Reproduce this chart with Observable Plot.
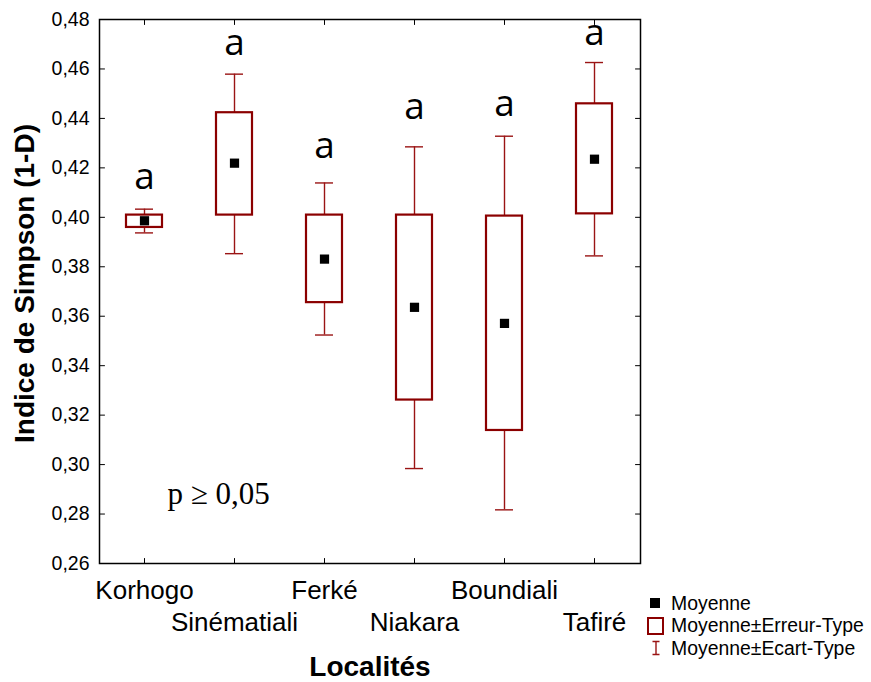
<!DOCTYPE html>
<html>
<head>
<meta charset="utf-8">
<script src="https://cdn.jsdelivr.net/npm/d3@7"></script>
<script src="https://cdn.jsdelivr.net/npm/@observablehq/plot@0.6"></script>
<style>
  body { margin: 0; background: white; }
  #wrap { position: relative; width: 871px; height: 682px; }
  .legend { position: absolute; left: 646px; top: 592px; font: 19.4px 'Liberation Sans', Arial, sans-serif; color: black; }
  .legend .row { display: flex; align-items: center; height: 22.5px; white-space: nowrap; }
  .legend svg { width: 25px; height: 22px; flex: none; }
</style>
</head>
<body>
<div id="wrap"></div>
<script>
const categories = ["Korhogo", "Sinématiali", "Ferké", "Niakara", "Boundiali", "Tafiré"];
const moyenne   = [0.3986, 0.4219, 0.3831, 0.3636, 0.3571, 0.4235];
const seLow     = [0.3959, 0.4009, 0.3655, 0.3261, 0.3138, 0.4014];
const seHigh    = [0.4009, 0.4423, 0.4009, 0.4009, 0.4005, 0.4459];
const sdLow     = [0.3937, 0.3853, 0.3524, 0.2984, 0.2817, 0.3844];
const sdHigh    = [0.4033, 0.4579, 0.4139, 0.4285, 0.4328, 0.4626];
const letters   = ["a", "a", "a", "a", "a", "a"];
const letterY   = [0.4115, 0.4658, 0.4240, 0.4396, 0.4409, 0.4698];
const yTicks    = [0.26, 0.28, 0.30, 0.32, 0.34, 0.36, 0.38, 0.40, 0.42, 0.44, 0.46, 0.48];
const yTitle = "Indice de Simpson (1-D)";
const xTitle = "Localités";
const pText = "p ≥ 0,05";
const legendLabels = ["Moyenne", "Moyenne±Erreur-Type", "Moyenne±Ecart-Type"];

const data = categories.map((c, i) => ({
  cat: c, mean: moyenne[i], seLow: seLow[i], seHigh: seHigh[i],
  sdLow: sdLow[i], sdHigh: sdHigh[i], letter: letters[i], letterY: letterY[i]
}));
const evenCats = categories.filter((d, i) => i % 2 === 0);
const oddCats = categories.filter((d, i) => i % 2 === 1);
const fmt = d => d.toFixed(2).replace(".", ",");

const BOX = "#8b0000";
const WHISK = "#9a1414";

const tickShape = { draw(context, l) { context.moveTo(0, 0); context.lineTo(0, -l); } };

const chart = Plot.plot({
  width: 871,
  height: 682,
  marginTop: 19,
  marginBottom: 119,
  marginLeft: 99,
  marginRight: 231,
  style: { fontFamily: "'Liberation Sans', Arial, sans-serif", background: "white", color: "black" },
  x: { type: "band", domain: categories, paddingInner: 0.6, paddingOuter: 0.3 },
  y: { domain: [0.26, 0.48] },
  marks: [
    Plot.axisY(yTicks, { tickSize: 0, tickPadding: 10, tickFormat: fmt, fontSize: 19.5, label: null }),
    Plot.axisX(evenCats, { tickSize: 0, tickPadding: 17, fontSize: 26, label: null }),
    Plot.axisX(oddCats, { tickSize: 0, tickPadding: 49, fontSize: 26, label: null }),
    // inward ticks on all four sides
    Plot.vector(yTicks, { y: d => d, frameAnchor: "left", rotate: 90, length: 5, anchor: "start", shape: tickShape, stroke: "black", strokeWidth: 1 }),
    Plot.vector(yTicks, { y: d => d, frameAnchor: "right", rotate: 270, length: 5, anchor: "start", shape: tickShape, stroke: "black", strokeWidth: 1 }),
    Plot.vector(categories, { x: d => d, frameAnchor: "bottom", rotate: 0, length: 5, anchor: "start", shape: tickShape, stroke: "black", strokeWidth: 1 }),
    Plot.vector(categories, { x: d => d, frameAnchor: "top", rotate: 180, length: 5, anchor: "start", shape: tickShape, stroke: "black", strokeWidth: 1 }),
    // whiskers (mean ± SD)
    Plot.ruleX(data, { x: "cat", y1: "sdLow", y2: "sdHigh", stroke: WHISK, strokeWidth: 1.4 }),
    Plot.tickY(data, { x: "cat", y: "sdHigh", stroke: WHISK, strokeWidth: 1.4, inset: 9 }),
    Plot.tickY(data, { x: "cat", y: "sdLow", stroke: WHISK, strokeWidth: 1.4, inset: 9 }),
    // boxes (mean ± SE)
    Plot.barY(data, { x: "cat", y1: "seLow", y2: "seHigh", fill: "white", stroke: BOX, strokeWidth: 2.2 }),
    // means
    Plot.dot(data, { x: "cat", y: "mean", symbol: "square", r: 5.2, fill: "black", stroke: null }),
    // letters
    Plot.text(data, { x: "cat", y: "letterY", text: "letter", lineAnchor: "bottom", fontFamily: "'Open Sans', sans-serif", fontSize: 37, fill: "black" }),
    // p value
    Plot.text([pText], { frameAnchor: "bottom-left", dx: 68, dy: -60, textAnchor: "start", lineAnchor: "bottom", fontFamily: "'Liberation Serif', 'Times New Roman', serif", fontSize: 31, fill: "black" }),
    // axis titles
    Plot.text([yTitle], { frameAnchor: "left", rotate: -90, dx: -74, dy: -8, textAnchor: "middle", lineAnchor: "middle", fontSize: 28, fontWeight: "bold", fill: "black" }),
    Plot.text([xTitle], { frameAnchor: "bottom", dy: 112, lineAnchor: "bottom", fontSize: 28, fontWeight: "bold", fill: "black" }),
    Plot.frame({ stroke: "black", strokeWidth: 1.5 })
  ]
});

const wrap = document.getElementById("wrap");
wrap.appendChild(chart);

const legend = document.createElement("div");
legend.className = "legend";
const symbols = [
  `<rect x="4" y="6" width="10" height="10" fill="black"/>`,
  `<rect x="2" y="3" width="15" height="16" fill="white" stroke="${BOX}" stroke-width="2"/>`,
  `<path d="M10 4.5 V17.5 M6.5 4.5 H13.5 M6.5 17.5 H13.5" stroke="${WHISK}" stroke-width="1.4" fill="none"/>`
];
legendLabels.forEach((lab, i) => {
  const row = document.createElement("div");
  row.className = "row";
  row.innerHTML = `<svg viewBox="0 0 25 22">${symbols[i]}</svg><span>${lab}</span>`;
  legend.appendChild(row);
});
wrap.appendChild(legend);
</script>
</body>
</html>
